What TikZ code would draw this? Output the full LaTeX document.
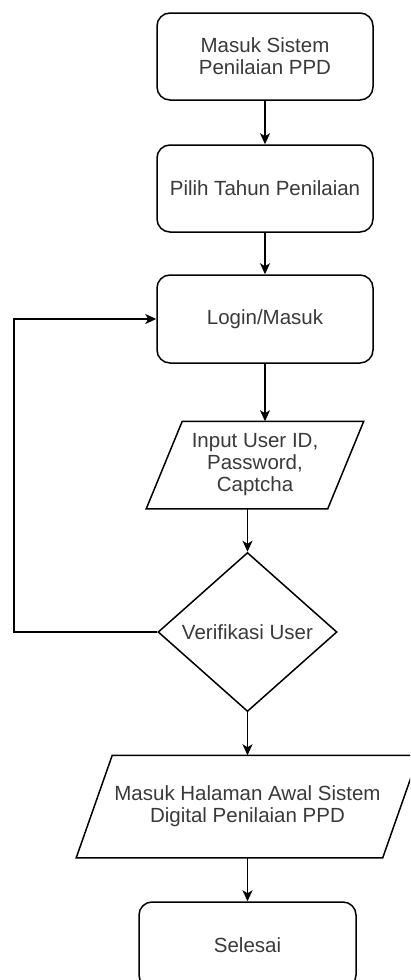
\documentclass[tikz,border=0pt]{standalone}
\usepackage{fontspec}
\setmainfont{Liberation Sans}
\usetikzlibrary{shapes.geometric,arrows.meta,calc}
\definecolor{txtgray}{HTML}{3A3A3A}
\tikzset{
  base/.style={font=\fontsize{20.5}{22}\selectfont, text=txtgray, align=center, line width=1.5pt, inner sep=1pt},
  procbox/.style={base, draw=black, rounded corners=13pt, rectangle, minimum width=216pt, minimum height=87pt},
  iobox/.style={base, rectangle},
  decbox/.style={base, draw=black, diamond, aspect=1.12, minimum width=179pt, minimum height=159pt, inner sep=0pt},
  flow/.style={line width=1.5pt, -{Stealth[length=11pt,width=10pt,inset=3pt]}},
  para/.style={line width=1.5pt, draw=black}
}
\begin{document}
\begin{tikzpicture}[x=1pt,y=-1pt]
\useasboundingbox (0,0) rectangle (410,980);
\fill[white] (0,0) rectangle (410,980);
\clip (0,0) rectangle (410,980);

\node[procbox] (s1) at (265,56.5) {Masuk Sistem\\Penilaian PPD};
\node[procbox] (s2) at (265,188.5) {Pilih Tahun Penilaian};
\node[procbox, minimum height=88pt] (s3) at (265,319) {Login/Masuk};
\node[iobox, minimum width=180pt, minimum height=86pt] (p1) at (255,465) {Input User ID,\\Password,\\Captcha};
\draw[para] ([xshift=-18pt]p1.south west) -- ([xshift=18pt]p1.north west) -- ([xshift=18pt]p1.north east) -- ([xshift=-18pt]p1.south east) -- cycle;
\node[decbox] (d) at (247.5,632) {Verifikasi User};
\node[iobox, minimum width=305pt, minimum height=101pt] (p2) at (247.5,806.5) {Masuk Halaman Awal Sistem\\Digital Penilaian PPD};
\draw[para] ([xshift=-18pt]p2.south west) -- ([xshift=18pt]p2.north west) -- ([xshift=18pt]p2.north east) -- ([xshift=-18pt]p2.south east) -- cycle;
\node[procbox, minimum width=217pt, minimum height=86pt] (s4) at (247.5,945) {Selesai};

\coordinate (lp) at (14,632);

\draw[flow] (s1.south) -- (s2.north);
\draw[flow] (s2.south) -- (s3.north);
\draw[flow] (s3.south) -- (s3.south |- p1.north);
\draw[flow] (d.north |- p1.south) -- (d.north);
\draw[flow] (d.south) -- (p2.north);
\draw[flow] (p2.south) -- (s4.north);
\draw[flow] (d.west) -- (lp) |- (s3.west);
\end{tikzpicture}
\end{document}
